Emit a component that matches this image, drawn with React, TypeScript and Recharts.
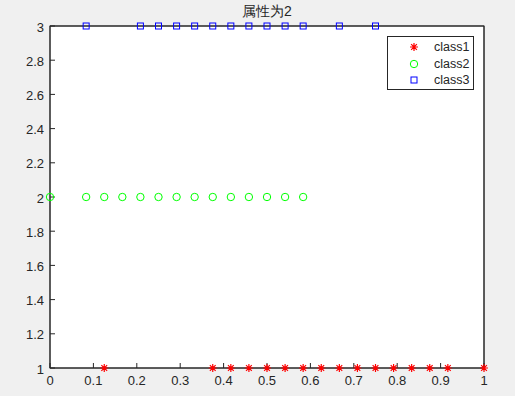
import React from 'react';
import { ScatterChart, Scatter, XAxis, YAxis } from 'recharts';

const xTicks = [0, 0.1, 0.2, 0.3, 0.4, 0.5, 0.6, 0.7, 0.8, 0.9, 1];
const yTicks = [1, 1.2, 1.4, 1.6, 1.8, 2, 2.2, 2.4, 2.6, 2.8, 3];

const class1X = [0.125, 0.375, 0.4167, 0.4583, 0.5, 0.5417, 0.5833, 0.625, 0.6667, 0.7083, 0.75, 0.7917, 0.8333, 0.875, 0.9167, 1];
const class1Y = [1, 1, 1, 1, 1, 1, 1, 1, 1, 1, 1, 1, 1, 1, 1, 1];
const class2X = [0, 0.0833, 0.125, 0.1667, 0.2083, 0.25, 0.2917, 0.3333, 0.375, 0.4167, 0.4583, 0.5, 0.5417, 0.5833];
const class2Y = [2, 2, 2, 2, 2, 2, 2, 2, 2, 2, 2, 2, 2, 2];
const class3X = [0.0833, 0.2083, 0.25, 0.2917, 0.3333, 0.375, 0.4167, 0.4583, 0.5, 0.5417, 0.5833, 0.6667, 0.75];
const class3Y = [3, 3, 3, 3, 3, 3, 3, 3, 3, 3, 3, 3, 3];

const seriesNames = ['class1', 'class2', 'class3'];
const seriesColors = ['#ff0000', '#00ff00', '#0000ff'];
const title = '属性为2';

const toPoints = (xs: number[], ys: number[]) => xs.map((x, i) => ({ x, y: ys[i] }));
const data1 = toPoints(class1X, class1Y);
const data2 = toPoints(class2X, class2Y);
const data3 = toPoints(class3X, class3Y);

const AXIS = '#262626';
const FONT = 'Liberation Sans, Arial, sans-serif';

const starPath = (cx: number, cy: number, r: number) => {
  const d = r * 0.72;
  return `M${cx - r},${cy}L${cx + r},${cy}M${cx},${cy - r}L${cx},${cy + r}M${cx - d},${cy - d}L${cx + d},${cy + d}M${cx - d},${cy + d}L${cx + d},${cy - d}`;
};

const StarShape = (p: any) => <path d={starPath(p.cx, p.cy, 4)} stroke={seriesColors[0]} strokeWidth={1.2} fill="none" />;
const CircleShape = (p: any) => <circle cx={p.cx} cy={p.cy} r={3.7} stroke={seriesColors[1]} strokeWidth={1} fill="none" />;
const SquareShape = (p: any) => <rect x={p.cx - 3} y={p.cy - 3} width={6} height={6} stroke={seriesColors[2]} strokeWidth={1} fill="none" />;
const NoShape = () => <g />;

const markerFor = (i: number, cx: number, cy: number) => {
  if (i === 0) return <StarShape cx={cx} cy={cy} />;
  if (i === 1) return <CircleShape cx={cx} cy={cy} />;
  return <SquareShape cx={cx} cy={cy} />;
};

const LegendBox = () => (
  <div style={{ position: 'absolute', left: 387, top: 36, width: 85, height: 52, border: `1px solid ${AXIS}`, background: '#fff' }}>
    {seriesNames.map((n, i) => (
      <div key={n} style={{ position: 'absolute', left: 0, top: 2 + i * 16.5, height: 16, width: 85, display: 'flex', alignItems: 'center' }}>
        <svg width={40} height={16} style={{ display: 'block' }}>
          {markerFor(i, 26, 8)}
        </svg>
        <span style={{ fontFamily: FONT, fontSize: 12.5, color: AXIS, marginLeft: 6 }}>{n}</span>
      </div>
    ))}
  </div>
);

export default function App() {
  return (
    <div style={{ position: 'absolute', left: 0, top: 0, width: 515, height: 396, background: '#f0f0f0', overflow: 'hidden' }}>
      <div style={{ position: 'absolute', left: 50, width: 434, top: 3, textAlign: 'center', fontFamily: FONT, fontSize: 14, color: AXIS }}>
        {title}
      </div>
      <ScatterChart width={515} height={396} margin={{ top: 26, right: 31, bottom: 0, left: 0 }}>
        <rect x={50} y={26} width={434} height={342} fill="#ffffff" stroke={AXIS} strokeWidth={1} />
        <XAxis
          xAxisId="b"
          type="number"
          dataKey="x"
          domain={[0, 1]}
          ticks={xTicks}
          interval={0}
          height={28}
          tickSize={-5}
          tickMargin={13}
          stroke={AXIS}
          tick={{ fill: AXIS, fontSize: 13, fontFamily: FONT }}
        />
        <XAxis
          xAxisId="t"
          orientation="top"
          type="number"
          dataKey="x"
          domain={[0, 1]}
          ticks={xTicks}
          interval={0}
          height={10}
          mirror
          tickSize={5}
          tick={false}
          stroke={AXIS}
        />
        <YAxis
          yAxisId="l"
          type="number"
          dataKey="y"
          domain={[1, 3]}
          ticks={yTicks}
          interval={0}
          width={50}
          tickSize={-5}
          tickMargin={11}
          stroke={AXIS}
          tick={{ fill: AXIS, fontSize: 13, fontFamily: FONT, dy: 1 }}
        />
        <YAxis
          yAxisId="r"
          orientation="right"
          type="number"
          dataKey="y"
          domain={[1, 3]}
          ticks={yTicks}
          interval={0}
          width={10}
          mirror
          tickSize={5}
          tick={false}
          stroke={AXIS}
        />
        <Scatter data={data3} xAxisId="t" yAxisId="r" shape={<NoShape />} legendType="none" isAnimationActive={false} />
        <Scatter name={seriesNames[0]} data={data1} xAxisId="b" yAxisId="l" shape={<StarShape />} isAnimationActive={false} />
        <Scatter name={seriesNames[1]} data={data2} xAxisId="b" yAxisId="l" shape={<CircleShape />} isAnimationActive={false} />
        <Scatter name={seriesNames[2]} data={data3} xAxisId="b" yAxisId="l" shape={<SquareShape />} isAnimationActive={false} />
      </ScatterChart>
      <LegendBox />
    </div>
  );
}
